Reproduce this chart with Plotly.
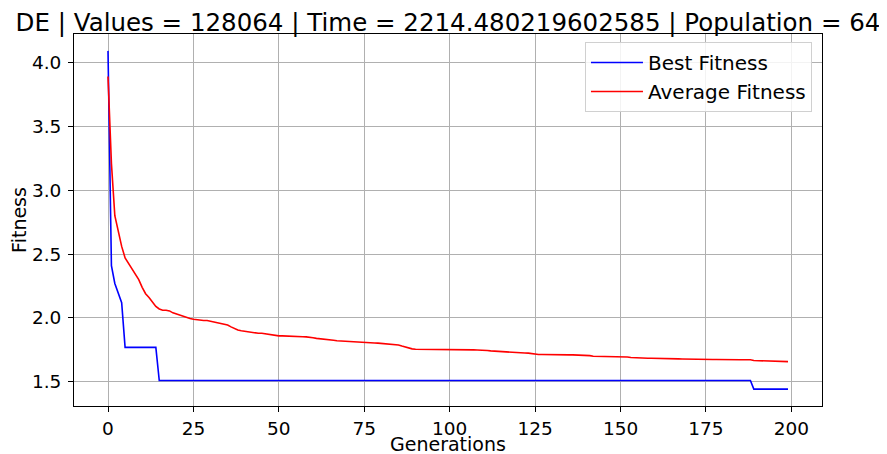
import plotly.graph_objects as go

generations = list(range(200))

best_fitness = [
    4.09, 2.41, 2.27, 2.20, 2.12, 1.77, 1.77, 1.77, 1.77, 1.77,
    1.77, 1.77, 1.77, 1.77, 1.77, 1.51, 1.51, 1.51, 1.51, 1.51,
    1.51, 1.51, 1.51, 1.51, 1.51, 1.51, 1.51, 1.51, 1.51, 1.51,
    1.51, 1.51, 1.51, 1.51, 1.51, 1.51, 1.51, 1.51, 1.51, 1.51,
    1.51, 1.51, 1.51, 1.51, 1.51, 1.51, 1.51, 1.51, 1.51, 1.51,
    1.51, 1.51, 1.51, 1.51, 1.51, 1.51, 1.51, 1.51, 1.51, 1.51,
    1.51, 1.51, 1.51, 1.51, 1.51, 1.51, 1.51, 1.51, 1.51, 1.51,
    1.51, 1.51, 1.51, 1.51, 1.51, 1.51, 1.51, 1.51, 1.51, 1.51,
    1.51, 1.51, 1.51, 1.51, 1.51, 1.51, 1.51, 1.51, 1.51, 1.51,
    1.51, 1.51, 1.51, 1.51, 1.51, 1.51, 1.51, 1.51, 1.51, 1.51,
    1.51, 1.51, 1.51, 1.51, 1.51, 1.51, 1.51, 1.51, 1.51, 1.51,
    1.51, 1.51, 1.51, 1.51, 1.51, 1.51, 1.51, 1.51, 1.51, 1.51,
    1.51, 1.51, 1.51, 1.51, 1.51, 1.51, 1.51, 1.51, 1.51, 1.51,
    1.51, 1.51, 1.51, 1.51, 1.51, 1.51, 1.51, 1.51, 1.51, 1.51,
    1.51, 1.51, 1.51, 1.51, 1.51, 1.51, 1.51, 1.51, 1.51, 1.51,
    1.51, 1.51, 1.51, 1.51, 1.51, 1.51, 1.51, 1.51, 1.51, 1.51,
    1.51, 1.51, 1.51, 1.51, 1.51, 1.51, 1.51, 1.51, 1.51, 1.51,
    1.51, 1.51, 1.51, 1.51, 1.51, 1.51, 1.51, 1.51, 1.51, 1.51,
    1.51, 1.51, 1.51, 1.51, 1.51, 1.51, 1.51, 1.51, 1.51, 1.443,
    1.443, 1.443, 1.443, 1.443, 1.443, 1.443, 1.443, 1.443, 1.443, 1.443,
]

average_fitness = [
    3.89, 3.21, 2.80, 2.67, 2.56, 2.47, 2.43, 2.38, 2.35, 2.30,
    2.24, 2.19, 2.16, 2.12, 2.09, 2.07, 2.06, 2.06, 2.055, 2.04,
    2.03, 2.02, 2.01, 2.00, 1.995, 1.99, 1.985, 1.985, 1.98, 1.98,
    1.975, 1.965, 1.96, 1.96, 1.955, 1.945, 1.93, 1.915, 1.905, 1.90,
    1.895, 1.89, 1.885, 1.88, 1.88, 1.88, 1.875, 1.87, 1.865, 1.86,
    1.86, 1.86, 1.858, 1.856, 1.856, 1.855, 1.854, 1.853, 1.852, 1.85,
    1.845, 1.84, 1.838, 1.835, 1.83, 1.828, 1.825, 1.822, 1.82, 1.818,
    1.815, 1.812, 1.81, 1.81, 1.81, 1.808, 1.806, 1.805, 1.804, 1.803,
    1.80, 1.80, 1.798, 1.796, 1.793, 1.788, 1.78, 1.772, 1.765, 1.758,
    1.755, 1.755, 1.755, 1.754, 1.754, 1.754, 1.753, 1.753, 1.752, 1.752,
    1.752, 1.751, 1.751, 1.751, 1.75, 1.75, 1.75, 1.75, 1.749, 1.749,
    1.748, 1.745, 1.742, 1.74, 1.738, 1.735, 1.733, 1.732, 1.73, 1.729,
    1.728, 1.727, 1.726, 1.725, 1.72, 1.715, 1.714, 1.714, 1.713, 1.713,
    1.713, 1.712, 1.712, 1.712, 1.711, 1.711, 1.711, 1.71, 1.71, 1.71,
    1.708, 1.705, 1.70, 1.70, 1.699, 1.699, 1.698, 1.698, 1.697, 1.697,
    1.696, 1.696, 1.695, 1.69, 1.688, 1.686, 1.686, 1.686, 1.685, 1.685,
    1.685, 1.685, 1.684, 1.684, 1.684, 1.682, 1.681, 1.68, 1.679, 1.678,
    1.677, 1.677, 1.676, 1.676, 1.676, 1.675, 1.675, 1.675, 1.675, 1.674,
    1.674, 1.674, 1.674, 1.674, 1.673, 1.673, 1.673, 1.673, 1.673, 1.667,
    1.666, 1.665, 1.665, 1.664, 1.663, 1.662, 1.661, 1.66, 1.659, 1.658,
]

x_ticks = [0, 25, 50, 75, 100, 125, 150, 175, 200]
y_ticks = [1.5, 2.0, 2.5, 3.0, 3.5, 4.0]
y_tick_labels = ["1.5", "2.0", "2.5", "3.0", "3.5", "4.0"]

title_text = "DE | Values = 128064 | Time = 2214.480219602585 | Population = 64"
x_title = "Generations"
y_title = "Fitness"

FONT = "DejaVu Sans"

fig = go.Figure()
fig.add_trace(go.Scatter(x=generations, y=best_fitness, mode="lines",
                         name="Best Fitness", line=dict(color="#0000ff", width=1.6)))
fig.add_trace(go.Scatter(x=generations, y=average_fitness, mode="lines",
                         name="Average Fitness", line=dict(color="#ff0000", width=1.6)))

axis_common = dict(
    automargin=False,
    showline=True, linecolor="black", linewidth=1, mirror=True,
    ticks="outside", ticklen=5, tickwidth=1, tickcolor="black",
    showgrid=True, gridcolor="#b0b0b0", gridwidth=1,
    zeroline=False,
    tickfont=dict(family=FONT, size=18.5, color="black"),
)

W, H = 879, 446
PLOT_H = 446 - 26 - 48

fig.update_layout(
    width=W, height=H,
    margin=dict(l=66, r=65, t=26, b=48, pad=0),
    paper_bgcolor="white", plot_bgcolor="white",
    font=dict(family=FONT, color="black"),
    title=dict(text=title_text, x=0.5, xref="paper", xanchor="center",
               y=1 - 14 / H, yref="container", yanchor="middle",
               font=dict(family=FONT, size=24.5, color="black")),
    xaxis=dict(range=[-9.95, 208.95], tickvals=x_ticks, ticklabelstandoff=1,
               **axis_common),
    yaxis=dict(range=[1.311, 4.222], tickvals=y_ticks, ticktext=y_tick_labels,
               ticklabelstandoff=3,
               title=dict(text=y_title, font=dict(family=FONT, size=19), standoff=4),
               **axis_common),
    legend=dict(x=0.9866, xanchor="right", y=0.9785, yanchor="top",
                bgcolor="rgba(255,255,255,0.85)", bordercolor="#d0d0d0", borderwidth=1,
                font=dict(family=FONT, size=20, color="black"),
                itemwidth=52, tracegroupgap=1),
    showlegend=True,
    annotations=[dict(text=x_title, xref="paper", yref="paper",
                      x=0.5, xanchor="center", y=-38 / PLOT_H, yanchor="middle",
                      showarrow=False, font=dict(family=FONT, size=19, color="black"))],
)

fig.write_html("out.html")
